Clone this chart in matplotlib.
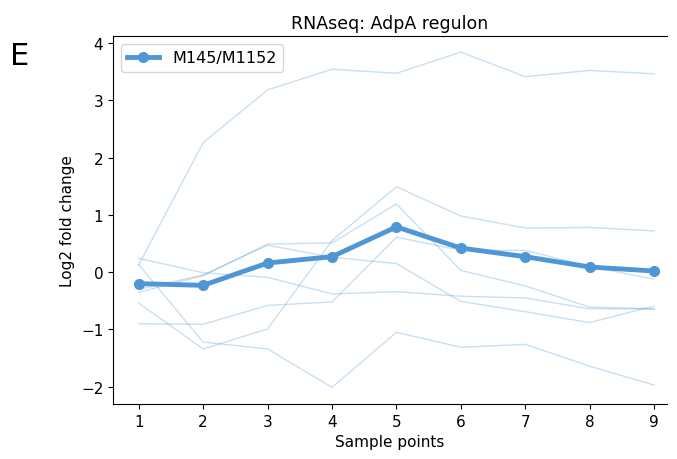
import matplotlib
matplotlib.use("Agg")
import matplotlib.pyplot as plt

samples = [1, 2, 3, 4, 5, 6, 7, 8, 9]
genes = [
    [0.13, 2.26, 3.18, 3.54, 3.47, 3.84, 3.41, 3.52, 3.46],
    [0.24, -0.01, -0.09, -0.38, -0.34, -0.42, -0.45, -0.64, -0.64],
    [-0.35, -0.06, 0.49, 0.51, 1.19, 0.03, -0.24, -0.61, -0.64],
    [0.13, -1.22, -1.34, -2.01, -1.05, -1.31, -1.26, -1.64, -1.97],
    [-0.54, -1.34, -0.99, 0.55, 1.49, 0.98, 0.77, 0.78, 0.72],
    [-0.90, -0.91, -0.58, -0.52, 0.61, 0.38, 0.38, 0.10, -0.12],
    [-0.30, -0.05, 0.47, 0.26, 0.15, -0.51, -0.69, -0.88, -0.59],
]
mean = [-0.20, -0.23, 0.16, 0.27, 0.79, 0.42, 0.27, 0.09, 0.02]

color = "#4f97d4"
fig = plt.figure(figsize=(6.77, 4.6), dpi=100)
ax = fig.add_axes([113 / 677, 55 / 460, 554 / 677, 368 / 460])

for g in genes:
    ax.plot(samples, g, color=color, alpha=0.3, lw=1)
ax.plot(samples, mean, color=color, lw=3.5, marker="o", markersize=7, label="M145/M1152")

ax.set_xlim(0.6, 9.2)
ax.set_ylim(-2.3, 4.12)
ax.set_xticks(samples)
ax.set_yticks([-2, -1, 0, 1, 2, 3, 4])
ax.spines["right"].set_visible(False)
ax.set_xlabel("Sample points", fontsize=11)
ax.set_ylabel("Log2 fold change", fontsize=11)
ax.set_title("RNAseq: AdpA regulon", fontsize=12.5)
ax.tick_params(labelsize=11)
ax.legend(loc="upper left", fontsize=11.5)
fig.text(10 / 677, 1 - 65 / 460, "E", fontsize=22)

fig.savefig("out.png", dpi=100)
